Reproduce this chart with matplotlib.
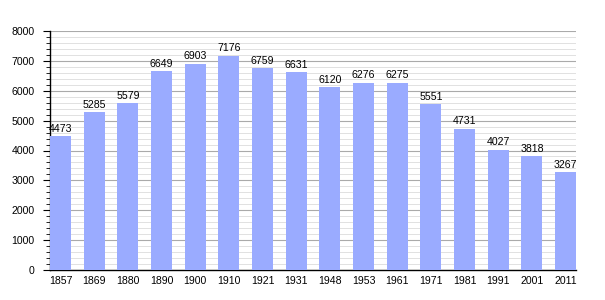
import matplotlib
matplotlib.use("Agg")
import matplotlib.pyplot as plt
from matplotlib.ticker import MultipleLocator

years = ["1857", "1869", "1880", "1890", "1900", "1910", "1921", "1931",
         "1948", "1953", "1961", "1971", "1981", "1991", "2001", "2011"]
population = [4473, 5285, 5579, 6649, 6903, 7176, 6759, 6631,
              6120, 6276, 6275, 5551, 4731, 4027, 3818, 3267]

plt.rcParams['font.family'] = ['Liberation Sans', 'DejaVu Sans']

fig = plt.figure(figsize=(6.05, 3.0), dpi=100)
ax = fig.add_axes([50/605, 0.1, 526/605, 239/300])

x = list(range(len(years)))
w = 0.624
bars = ax.bar(x, population, width=w, color='#9aabff', zorder=3)
for xi, v in zip(x, population):
    ax.text(xi, v + 80, str(v), ha='center', va='bottom', fontsize=7.6, color='black', zorder=4)

ax.set_xlim(-w/2, len(years) - 1 + w/2)
ax.set_ylim(0, 8000)
ax.set_xticks(x)
ax.set_xticklabels(years, fontsize=7.6)
ax.tick_params(axis='x', length=0, pad=4)
ax.yaxis.set_major_locator(MultipleLocator(1000))
ax.yaxis.set_minor_locator(MultipleLocator(200))
ax.tick_params(axis='y', which='major', length=5, width=0.8, labelsize=7.6, pad=6)
ax.tick_params(axis='y', which='minor', length=3, width=0.6)
ax.grid(axis='y', which='major', color='#aaaaaa', linewidth=0.8, zorder=1)
ax.grid(axis='y', which='minor', color='#dcdcdc', linewidth=0.6, zorder=1)
ax.set_axisbelow(True)
for s in ['top', 'right']:
    ax.spines[s].set_visible(False)
ax.spines['left'].set_linewidth(1.0)
ax.spines['bottom'].set_linewidth(1.0)

fig.savefig("out.png", dpi=100, facecolor='white')
